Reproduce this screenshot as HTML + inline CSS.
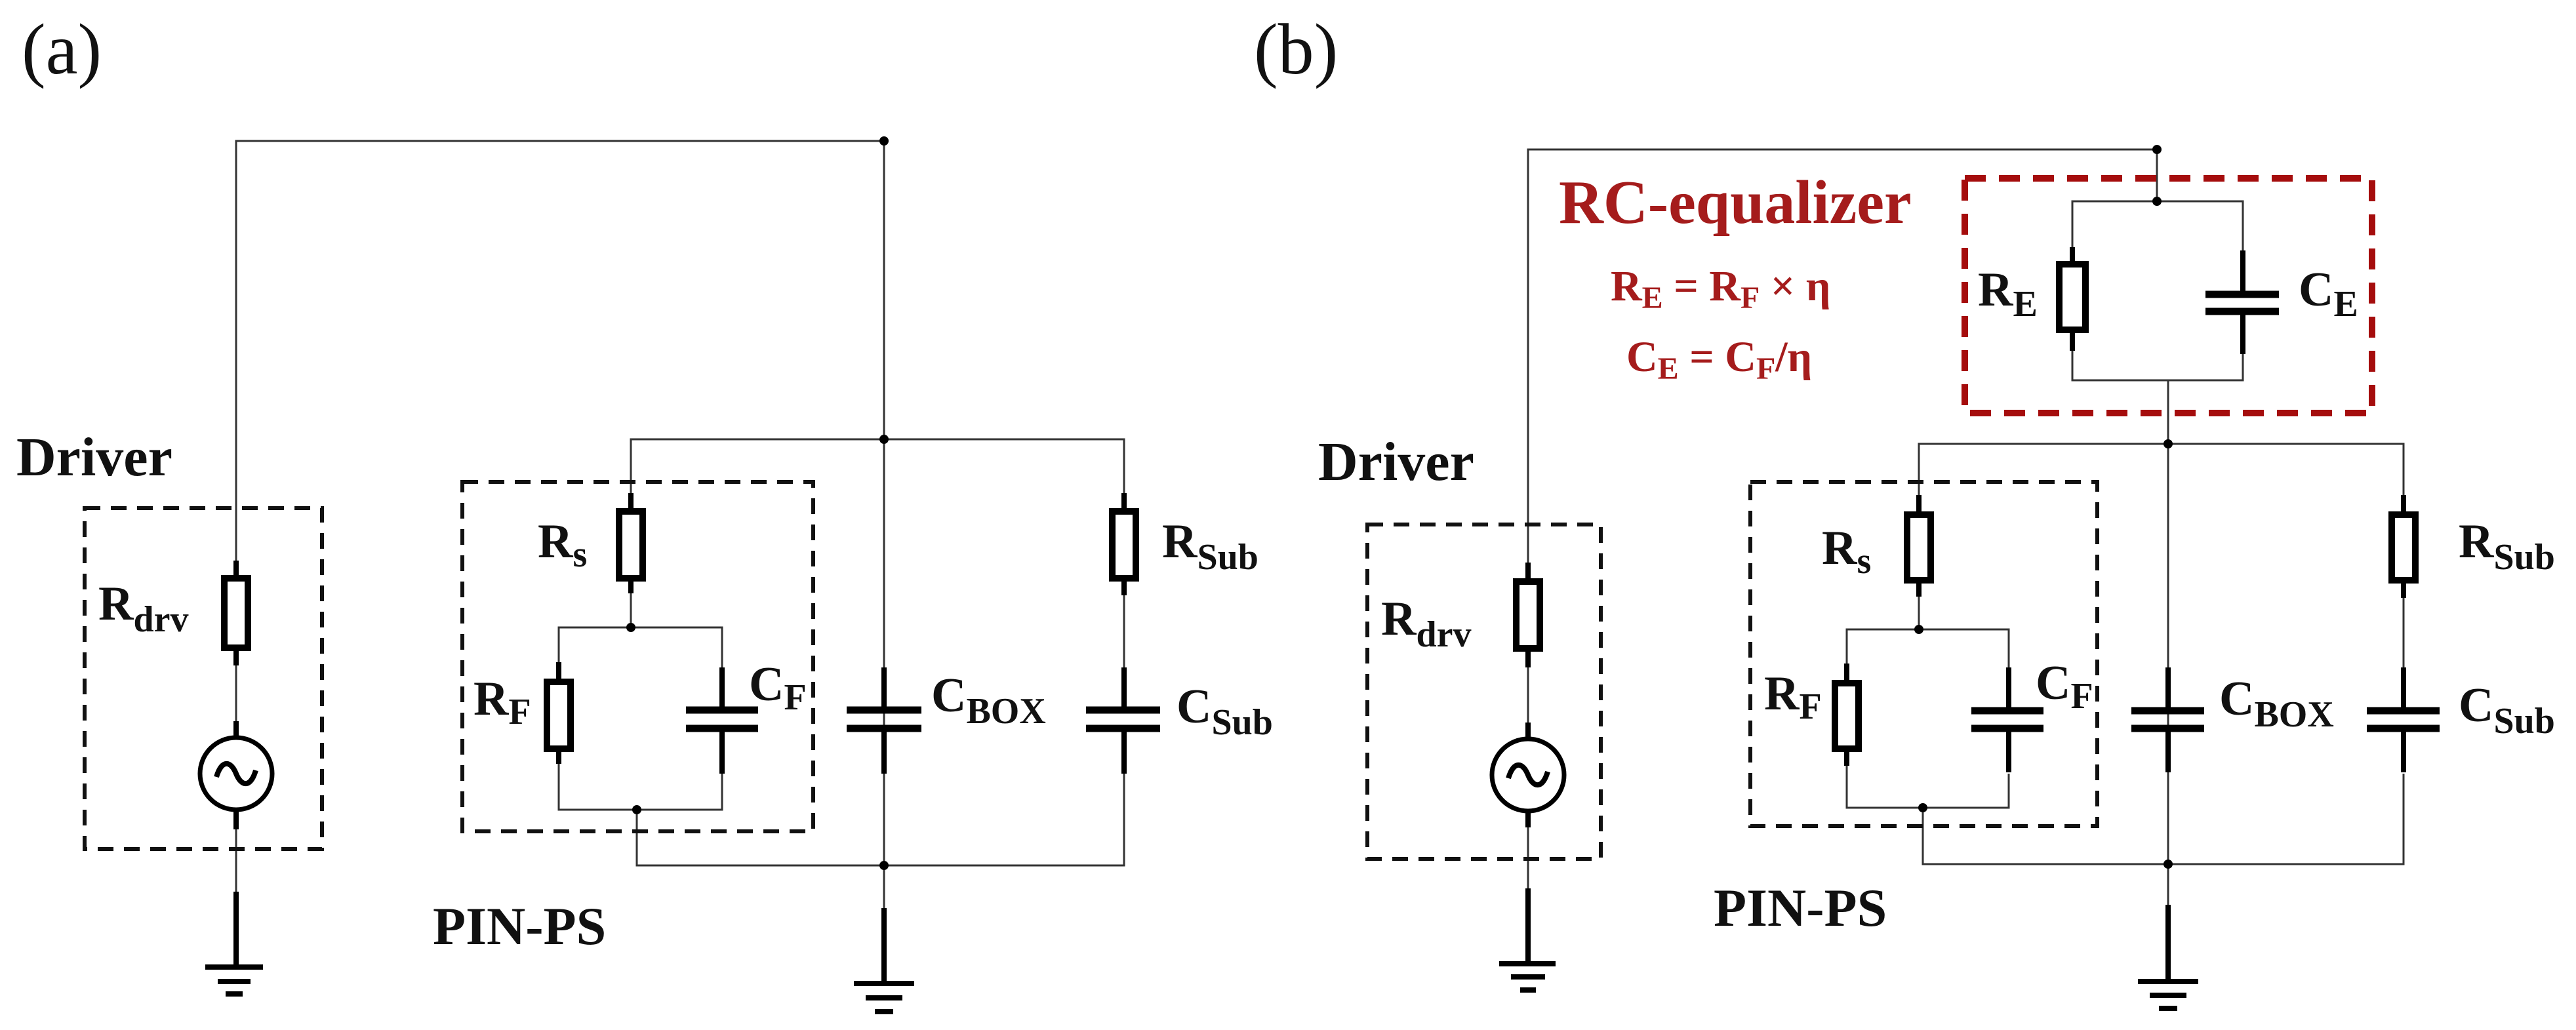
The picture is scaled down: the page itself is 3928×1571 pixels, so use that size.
<!DOCTYPE html>
<html><head><meta charset="utf-8"><style>
html,body{margin:0;padding:0;background:#fff}
svg{display:block}
.w{stroke:#333;stroke-width:3;fill:none}
.t{stroke:#000;stroke-width:8;fill:none}
.r{stroke:#000;stroke-width:10;fill:#fff}
.p{stroke:#000;stroke-width:11}
.d{stroke:#111;stroke-width:6;fill:none;stroke-dasharray:24 16}
.rd{stroke:#a50d0d;stroke-width:10;fill:none;stroke-dasharray:32 20}
text{font-family:"Liberation Serif",serif;font-weight:bold;fill:#111}
.lb{font-size:74px}
.sb{font-size:56px}
.rt{fill:#a51c1c}
</style></head><body>
<svg width="3928" height="1571" viewBox="0 0 3928 1571" xmlns="http://www.w3.org/2000/svg">
<text x="33" y="112" style="font-weight:normal;font-size:110px">(a)</text>
<text x="1912" y="112" style="font-weight:normal;font-size:110px">(b)</text>

<!-- ===== Panel A ===== -->
<polyline class="w" points="360,1360 360,215 1348,215 1348,1390"/>
<polyline class="w" points="962,755 962,670 1714,670 1714,755"/>
<polyline class="w" points="852,1015 852,957 1101,957 1101,1020"/>
<polyline class="w" points="852,1165 852,1235 1101,1235 1101,1180"/>
<polyline class="w" points="971,1235 971,1320 1714,1320 1714,1180"/>
<line class="w" x1="962" y1="905" x2="962" y2="957"/>
<line class="w" x1="1714" y1="908" x2="1714" y2="1020"/>
<g fill="#000"><circle cx="1348" cy="215" r="7"/><circle cx="1348" cy="670" r="7"/><circle cx="962" cy="957" r="7"/><circle cx="971" cy="1235" r="7"/><circle cx="1348" cy="1320" r="7"/></g>
<!-- Driver -->
<rect class="d" x="129" y="775" width="362" height="520"/>
<line class="t" x1="360" y1="855" x2="360" y2="1015"/><rect class="r" x="342" y="882" width="36" height="106"/>
<line class="t" x1="360" y1="1100" x2="360" y2="1265"/>
<circle cx="360" cy="1180" r="55" fill="#fff" stroke="#000" stroke-width="7"/>
<path d="M330,1185 C338,1158 352,1160 360,1180 C368,1200 382,1202 390,1175" fill="none" stroke="#000" stroke-width="8"/>
<line class="t" x1="360" y1="1360" x2="360" y2="1472"/>
<line class="t" x1="313" y1="1475" x2="401" y2="1475"/><line class="t" x1="332" y1="1497" x2="382" y2="1497"/><line class="t" x1="344" y1="1516" x2="370" y2="1516"/>
<text x="25" y="725" style="font-size:84px">Driver</text>
<text x="150" y="945" class="lb">R<tspan class="sb" dy="18">drv</tspan></text>
<!-- PIN -->
<rect class="d" x="705" y="735" width="535" height="533"/>
<line class="t" x1="962" y1="752" x2="962" y2="905"/><rect class="r" x="944" y="780" width="36" height="102"/>
<line class="t" x1="852" y1="1010" x2="852" y2="1165"/><rect class="r" x="834" y="1040" width="36" height="102"/>
<line class="t" x1="1101" y1="1018" x2="1101" y2="1082"/><line class="t" x1="1101" y1="1112" x2="1101" y2="1180"/>
<line class="p" x1="1046" y1="1083" x2="1156" y2="1083"/><line class="p" x1="1046" y1="1111" x2="1156" y2="1111"/>
<line class="t" x1="1348" y1="1018" x2="1348" y2="1082"/><line class="t" x1="1348" y1="1112" x2="1348" y2="1180"/>
<line class="p" x1="1291" y1="1083" x2="1405" y2="1083"/><line class="p" x1="1291" y1="1111" x2="1405" y2="1111"/>
<line class="t" x1="1714" y1="752" x2="1714" y2="908"/><rect class="r" x="1696" y="780" width="36" height="102"/>
<line class="t" x1="1714" y1="1018" x2="1714" y2="1082"/><line class="t" x1="1714" y1="1112" x2="1714" y2="1180"/>
<line class="p" x1="1656" y1="1083" x2="1769" y2="1083"/><line class="p" x1="1656" y1="1111" x2="1769" y2="1111"/>
<line class="t" x1="1348" y1="1385" x2="1348" y2="1497"/>
<line class="t" x1="1302" y1="1500" x2="1394" y2="1500"/><line class="t" x1="1320" y1="1522" x2="1376" y2="1522"/><line class="t" x1="1334" y1="1543" x2="1362" y2="1543"/>
<text x="820" y="850" class="lb">R<tspan class="sb" dy="14">s</tspan></text>
<text x="722" y="1090" class="lb">R<tspan class="sb" dy="14">F</tspan></text>
<text x="1142" y="1068" class="lb">C<tspan class="sb" dy="14">F</tspan></text>
<text x="1420" y="1085" class="lb">C<tspan class="sb" dy="18">BOX</tspan></text>
<text x="1772" y="850" class="lb">R<tspan class="sb" dy="18">Sub</tspan></text>
<text x="1794" y="1102" class="lb">C<tspan class="sb" dy="18">Sub</tspan></text>
<text x="660" y="1440" style="font-size:82px">PIN-PS</text>

<!-- ===== Panel B ===== -->
<polyline class="w" points="2330,1360 2330,228 3289,228 3289,307"/>
<polyline class="w" points="3160,378 3160,307 3420,307 3420,382"/>
<polyline class="w" points="3160,535 3160,580 3420,580 3420,540"/>
<line class="w" x1="3306" y1="580" x2="3306" y2="1385"/>
<polyline class="w" points="2926,758 2926,677 3665,677 3665,758"/>
<polyline class="w" points="2816,1015 2816,960 3063,960 3063,1020"/>
<polyline class="w" points="2816,1165 2816,1232 3063,1232 3063,1180"/>
<polyline class="w" points="2932,1232 2932,1318 3665,1318 3665,1180"/>
<line class="w" x1="2926" y1="905" x2="2926" y2="960"/>
<line class="w" x1="3665" y1="908" x2="3665" y2="1020"/>
<g fill="#000"><circle cx="3289" cy="228" r="7"/><circle cx="3289" cy="307" r="7"/><circle cx="3306" cy="677" r="7"/><circle cx="2926" cy="960" r="7"/><circle cx="2932" cy="1232" r="7"/><circle cx="3306" cy="1318" r="7"/></g>
<!-- RC eq -->
<rect class="rd" x="2996" y="272" width="621" height="358"/>
<line class="t" x1="3160" y1="377" x2="3160" y2="535"/><rect class="r" x="3140" y="403" width="40" height="100"/>
<line class="t" x1="3420" y1="382" x2="3420" y2="448"/><line class="t" x1="3420" y1="475" x2="3420" y2="540"/>
<line class="p" x1="3363" y1="449" x2="3475" y2="449"/><line class="p" x1="3363" y1="475" x2="3475" y2="475"/>
<text x="3016" y="466" class="lb">R<tspan class="sb" dy="16">E</tspan></text>
<text x="3505" y="466" class="lb">C<tspan class="sb" dy="16">E</tspan></text>
<text x="2377" y="340" class="rt" style="font-size:94px">RC-equalizer</text>
<text x="2456" y="458" class="rt" style="font-size:66px">R<tspan style="font-size:48px" dy="12">E</tspan><tspan dy="-12"> = R</tspan><tspan style="font-size:48px" dy="12">F</tspan><tspan dy="-12"> × η</tspan></text>
<text x="2480" y="566" class="rt" style="font-size:66px">C<tspan style="font-size:48px" dy="12">E</tspan><tspan dy="-12"> = C</tspan><tspan style="font-size:48px" dy="12">F</tspan><tspan dy="-12">/η</tspan></text>
<!-- Driver B -->
<rect class="d" x="2085" y="800" width="356" height="510"/>
<line class="t" x1="2330" y1="858" x2="2330" y2="1018"/><rect class="r" x="2312" y="887" width="36" height="102"/>
<line class="t" x1="2330" y1="1102" x2="2330" y2="1262"/>
<circle cx="2330" cy="1182" r="55" fill="#fff" stroke="#000" stroke-width="7"/>
<path d="M2300,1187 C2308,1160 2322,1162 2330,1182 C2338,1202 2352,1204 2360,1177" fill="none" stroke="#000" stroke-width="8"/>
<line class="t" x1="2330" y1="1355" x2="2330" y2="1468"/>
<line class="t" x1="2286" y1="1470" x2="2372" y2="1470"/><line class="t" x1="2304" y1="1490" x2="2356" y2="1490"/><line class="t" x1="2318" y1="1510" x2="2342" y2="1510"/>
<text x="2010" y="732" style="font-size:84px">Driver</text>
<text x="2106" y="968" class="lb">R<tspan class="sb" dy="18">drv</tspan></text>
<!-- PIN B -->
<rect class="d" x="2669" y="735" width="529" height="525"/>
<line class="t" x1="2926" y1="755" x2="2926" y2="910"/><rect class="r" x="2908" y="785" width="36" height="100"/>
<line class="t" x1="2816" y1="1012" x2="2816" y2="1168"/><rect class="r" x="2798" y="1042" width="36" height="100"/>
<line class="t" x1="3063" y1="1018" x2="3063" y2="1083"/><line class="t" x1="3063" y1="1112" x2="3063" y2="1178"/>
<line class="p" x1="3006" y1="1084" x2="3116" y2="1084"/><line class="p" x1="3006" y1="1111" x2="3116" y2="1111"/>
<line class="t" x1="3306" y1="1018" x2="3306" y2="1083"/><line class="t" x1="3306" y1="1112" x2="3306" y2="1178"/>
<line class="p" x1="3250" y1="1084" x2="3361" y2="1084"/><line class="p" x1="3250" y1="1111" x2="3361" y2="1111"/>
<line class="t" x1="3665" y1="755" x2="3665" y2="912"/><rect class="r" x="3647" y="785" width="36" height="100"/>
<line class="t" x1="3665" y1="1018" x2="3665" y2="1083"/><line class="t" x1="3665" y1="1112" x2="3665" y2="1178"/>
<line class="p" x1="3609" y1="1084" x2="3720" y2="1084"/><line class="p" x1="3609" y1="1111" x2="3720" y2="1111"/>
<line class="t" x1="3306" y1="1380" x2="3306" y2="1494"/>
<line class="t" x1="3260" y1="1497" x2="3352" y2="1497"/><line class="t" x1="3278" y1="1518" x2="3334" y2="1518"/><line class="t" x1="3292" y1="1538" x2="3320" y2="1538"/>
<text x="2778" y="860" class="lb">R<tspan class="sb" dy="14">s</tspan></text>
<text x="2690" y="1082" class="lb">R<tspan class="sb" dy="14">F</tspan></text>
<text x="3104" y="1066" class="lb">C<tspan class="sb" dy="14">F</tspan></text>
<text x="3384" y="1090" class="lb">C<tspan class="sb" dy="18">BOX</tspan></text>
<text x="3749" y="850" class="lb">R<tspan class="sb" dy="18">Sub</tspan></text>
<text x="3749" y="1100" class="lb">C<tspan class="sb" dy="18">Sub</tspan></text>
<text x="2613" y="1412" style="font-size:82px">PIN-PS</text>
</svg>
</body></html>
